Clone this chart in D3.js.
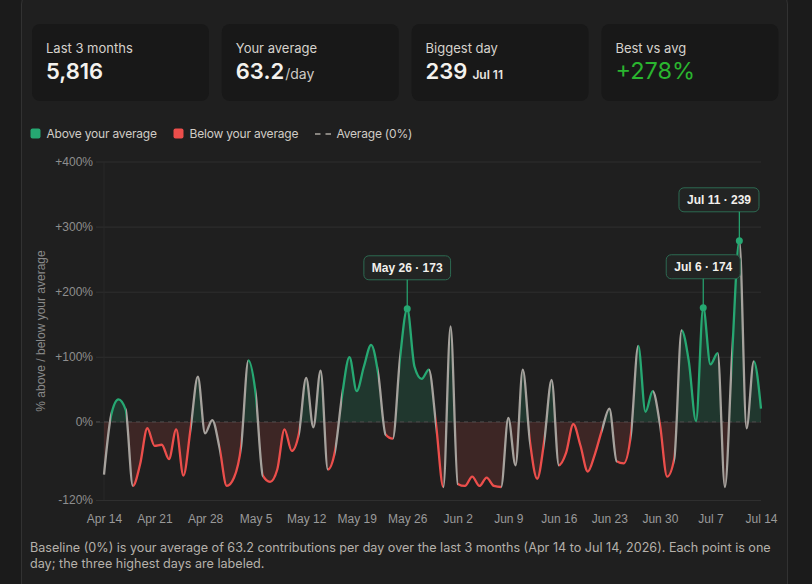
<!DOCTYPE html>
<html>
<head>
<meta charset="utf-8">
<title>Contributions vs your average</title>
<style>
  body { margin: 0; background: #1b1b1b; }
  svg { display: block; font-family: Inter, "Noto Sans", sans-serif; }
</style>
</head>
<body>
<script src="https://d3js.org/d3.v7.min.js"></script>
<div id="chart"></div>
<script>

// daily contributions, Apr 14 .. Jul 14 2026
var counts = [
  12, 70, 85, 75, 1, 22, 57, 40, 41, 27,
  56, 11, 57, 107, 52, 65, 38, 1, 9, 40,
  123, 91, 11, 5, 17, 56, 35, 52, 106, 58,
  113, 17, 35, 90, 126, 93, 117, 138, 109, 51,
  47, 125, 173, 117, 105, 114, 60, 0, 156, 3,
  1, 10, 1, 9, 1, 0, 67, 21, 114, 44,
  8, 46, 104, 21, 33, 61, 40, 15, 32, 56,
  76, 25, 23, 52, 137, 73, 93, 61, 10, 28,
  152, 122, 64, 174, 119, 130, 0, 129, 239, 57,
  122, 76
]
var startDay = "2026-04-14"
var average = 63.2

var tickLabels = ["Apr 14", "Apr 21", "Apr 28", "May 5", "May 12", "May 19", "May 26",
                  "Jun 2", "Jun 9", "Jun 16", "Jun 23", "Jun 30", "Jul 7", "Jul 14"]
var yTicks = [-120, 0, 100, 200, 300, 400]

var statLabels = ["Last 3 months", "Your average", "Biggest day", "Best vs avg"]
var statValues = ["5,816", "63.2", "239", "+278%"]
var statSuffix = ["", "/day", "Jul 11", ""]

var legendLabels = ["Above your average", "Below your average", "Average (0%)"]
var footerLines = [
  "Baseline (0%) is your average of 63.2 contributions per day over the last 3 months (Apr 14 to Jul 14, 2026). Each point is one",
  "day; the three highest days are labeled."
]

// colours
var green = "#26a872", red = "#ec4e4b", grey = "#a6a29d"

var width = 812, height = 584
var svg = d3.select("#chart").append("svg")
    .attr("width", width)
    .attr("height", height)

// outer panel
svg.append("rect")
    .attr("x", 21.5).attr("y", -8)
    .attr("width", 766).attr("height", 700)
    .attr("rx", 12)
    .attr("fill", "#1f1f1f")
    .attr("stroke", "#323232")

// stat cards
var cardW = 177, cardGap = 12.8
var cards = svg.selectAll(".card")
  .data(statLabels)
  .enter().append("g")
    .attr("transform", function(d, i) { return "translate(" + (32 + i * (cardW + cardGap)) + ",24)" })

cards.append("rect")
    .attr("width", cardW).attr("height", 77)
    .attr("rx", 8)
    .attr("fill", "#181818")

cards.append("text")
    .attr("x", 14).attr("y", 28.5)
    .style("font-size", "13px")
    .style("fill", "#d6d2cc")
    .text(function(d) { return d })

var valueText = cards.append("text")
    .attr("x", 14).attr("y", 55)

valueText.append("tspan")
    .style("font-size", function(d, i) { return i == 3 ? "23.5px" : "22px" })
    .style("font-weight", function(d, i) { return i == 3 ? 400 : 600 })
    .style("fill", function(d, i) { return i == 3 ? "#2ab52f" : "#f4f2ee" })
    .text(function(d, i) { return statValues[i] })

valueText.append("tspan")
    .attr("dx", function(d, i) { return i == 2 ? 5 : 1 })
    .style("font-size", function(d, i) { return i == 2 ? "12px" : "14px" })
    .style("font-weight", function(d, i) { return i == 2 ? 600 : 400 })
    .style("fill", function(d, i) { return i == 2 ? "#e8e5e0" : "#cfcbc5" })
    .text(function(d, i) { return statSuffix[i] })

// legend
var legend = svg.append("g")
    .style("font-size", "12px").style("letter-spacing", "-0.2px")
    .style("fill", "#d0ccc6")
legend.append("rect").attr("x", 30.5).attr("y", 128.5).attr("width", 10).attr("height", 10).attr("rx", 2).attr("fill", green)
legend.append("text").attr("x", 46.5).attr("y", 138).text(legendLabels[0])
legend.append("rect").attr("x", 173.5).attr("y", 128.5).attr("width", 10).attr("height", 10).attr("rx", 2).attr("fill", red)
legend.append("text").attr("x", 189.5).attr("y", 138).text(legendLabels[1])
legend.append("line").attr("x1", 315).attr("x2", 331.5).attr("y1", 134).attr("y2", 134)
    .attr("stroke", "#aaa6a0").attr("stroke-width", 1.5).attr("stroke-dasharray", "5.5,5")
legend.append("text").attr("x", 336.5).attr("y", 138).text(legendLabels[2])

// data
var parseDay = d3.timeParse("%Y-%m-%d")
var parseTick = d3.timeParse("%b %d %Y")
var fmtDay = d3.timeFormat("%b %-d")
var day0 = parseDay(startDay)
var data = counts.map(function(c, i) {
  return { date: d3.timeDay.offset(day0, i), count: c, pct: (c - average) / average * 100 }
})
var n = data.length

var gridLeft = 96, plotLeft = 104, plotRight = 761
var x = d3.scaleTime()
    .domain([data[0].date, data[n - 1].date])
    .range([plotLeft, plotRight])
var y = d3.scaleLinear()
    .domain([-120, 400])
    .range([500, 161.5])

var axisFont = "'Liberation Sans', Arial, sans-serif"

// y grid + labels
var yAxis = svg.append("g")
    .attr("transform", "translate(" + gridLeft + ",0)")
    .call(d3.axisLeft(y)
      .tickValues(yTicks)
      .tickSize(-(plotRight - gridLeft))
      .tickPadding(3)
      .tickFormat(function(d) { return (d > 0 ? "+" : "") + d + "%" }))
yAxis.select(".domain").remove()
yAxis.selectAll(".tick line").attr("stroke", "#2f2f2f")
yAxis.selectAll(".tick text")
    .style("font-family", axisFont).style("font-size", "12px").attr("fill", "#8e8e8e")

svg.append("line")
    .attr("x1", plotLeft).attr("x2", plotLeft)
    .attr("y1", 161.5).attr("y2", 500)
    .attr("stroke", "#282828")

// x labels
var xAxis = svg.append("g")
    .attr("transform", "translate(0,500)")
    .call(d3.axisBottom(x)
      .tickValues(tickLabels.map(function(t) { return parseTick(t + " 2026") }))
      .tickSize(0)
      .tickPadding(14)
      .tickFormat(function(d, i) { return tickLabels[i] }))
xAxis.select(".domain").remove()
xAxis.selectAll(".tick text")
    .style("font-family", axisFont).style("font-size", "12px").attr("fill", "#9a9a9a")

// y title
svg.append("text")
    .attr("transform", "translate(45,331) rotate(-90)")
    .attr("text-anchor", "middle")
    .style("font-family", axisFont).style("font-size", "12px")
    .attr("fill", "#8a8a8a")
    .text("% above / below your average")

// clip areas above / below the baseline
var defs = svg.append("defs")
defs.append("clipPath").attr("id", "clipAbove")
  .append("rect").attr("x", 0).attr("y", 0).attr("width", width).attr("height", y(0))
defs.append("clipPath").attr("id", "clipBelow")
  .append("rect").attr("x", 0).attr("y", y(0)).attr("width", width).attr("height", height)

var curve = d3.curveMonotoneX
var area = d3.area()
    .x(function(d) { return x(d.date) })
    .y0(y(0))
    .y1(function(d) { return y(d.pct) })
    .curve(curve)

svg.append("path").datum(data)
    .attr("d", area)
    .attr("clip-path", "url(#clipAbove)")
    .attr("fill", green).attr("fill-opacity", 0.18)
svg.append("path").datum(data)
    .attr("d", area)
    .attr("clip-path", "url(#clipBelow)")
    .attr("fill", red).attr("fill-opacity", 0.15)

// baseline
svg.append("line")
    .attr("x1", gridLeft).attr("x2", plotRight)
    .attr("y1", y(0)).attr("y2", y(0))
    .attr("stroke", "#4a4a4a").attr("stroke-dasharray", "4,4")

// line coloured segment by segment: green above, red below, grey when it crosses
var x0 = x(data[0].date), span = x(data[n - 1].date) - x0
var grad = defs.append("linearGradient")
    .attr("id", "lineGrad")
    .attr("gradientUnits", "userSpaceOnUse")
    .attr("x1", x0).attr("x2", x0 + span).attr("y1", 0).attr("y2", 0)
for (var i = 0; i < n - 1; i++) {
  var a = data[i].pct, b = data[i + 1].pct
  var col = (a >= 0 && b >= 0) ? green : (a < 0 && b < 0) ? red : grey
  grad.append("stop").attr("offset", (x(data[i].date) - x0) / span).attr("stop-color", col)
  grad.append("stop").attr("offset", (x(data[i + 1].date) - x0) / span).attr("stop-color", col)
}

var line = d3.line()
    .x(function(d) { return x(d.date) })
    .y(function(d) { return y(d.pct) })
    .curve(curve)

svg.append("path").datum(data)
    .attr("d", line)
    .attr("fill", "none")
    .attr("stroke", "url(#lineGrad)")
    .attr("stroke-width", 2.3)
    .attr("stroke-linejoin", "round")

// label the three highest days
var top3 = data.slice().sort(function(p, q) { return q.count - p.count }).slice(0, 3)
var notes = svg.selectAll(".note")
  .data(top3)
  .enter().append("g")

notes.each(function(d) {
  var g = d3.select(this)
  var px = x(d.date), py = y(d.pct)
  var boxBottom = py - 29
  var t = g.append("text")
      .attr("text-anchor", "middle")
      .style("font-family", axisFont).style("font-size", "12px").style("font-weight", "bold")
      .attr("fill", "#f2f0ec")
      .text(fmtDay(d.date) + " · " + d.count)
  var w = t.node().getComputedTextLength() + 16
  var cx = Math.min(Math.max(px, gridLeft + w / 2), plotRight - 2 - w / 2)
  t.attr("x", cx).attr("y", boxBottom - 7.5)
  g.insert("rect", "text")
      .attr("x", cx - w / 2).attr("y", boxBottom - 24)
      .attr("width", w).attr("height", 24)
      .attr("rx", 5)
      .attr("fill", "#222423")
      .attr("stroke", "#2d6a52")
  g.append("line")
      .attr("x1", px).attr("x2", px)
      .attr("y1", boxBottom).attr("y2", py)
      .attr("stroke", green).attr("stroke-width", 1.2)
  g.append("circle")
      .attr("cx", px).attr("cy", py).attr("r", 3.5)
      .attr("fill", green)
})

// footer note
svg.append("text")
    .attr("x", 30)
    .style("font-size", "12.6px")
    .attr("fill", "#b5b1ab")
  .selectAll("tspan")
  .data(footerLines)
  .enter().append("tspan")
    .attr("x", 30)
    .attr("y", function(d, i) { return 552 + i * 15.5 })
    .text(function(d) { return d })

</script>
</body>
</html>
